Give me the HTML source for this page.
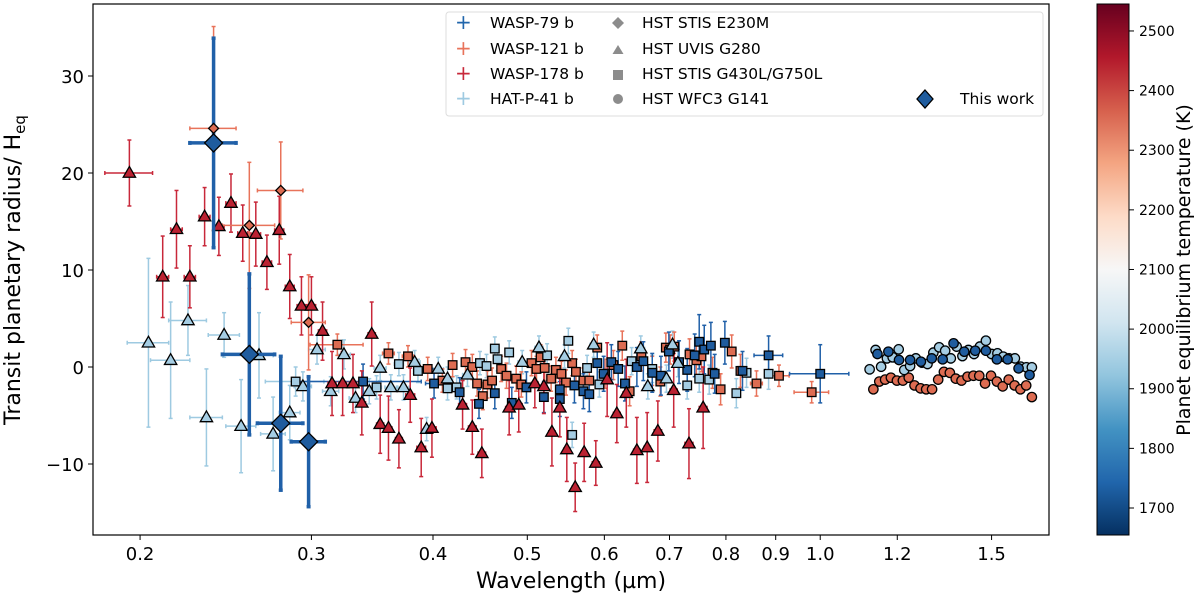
<!DOCTYPE html>
<html><head><meta charset="utf-8"><style>
body{margin:0;background:#fff;}
svg text{font-family:"DejaVu Sans","Liberation Sans",sans-serif;}
</style></head><body>
<svg id="chart" width="1200" height="601" xmlns="http://www.w3.org/2000/svg">
<defs>
<linearGradient id="rdbu" x1="0" y1="1" x2="0" y2="0">
<stop offset="0" stop-color="#053061"/><stop offset="0.1" stop-color="#2166ac"/><stop offset="0.2" stop-color="#4393c3"/><stop offset="0.3" stop-color="#92c5de"/><stop offset="0.4" stop-color="#d1e5f0"/><stop offset="0.5" stop-color="#f7f7f7"/><stop offset="0.6" stop-color="#fddbc7"/><stop offset="0.7" stop-color="#f4a582"/><stop offset="0.8" stop-color="#d6604d"/><stop offset="0.9" stop-color="#b2182b"/><stop offset="1" stop-color="#67001f"/>
</linearGradient>
<clipPath id="plotclip"><rect x="93" y="4" width="956" height="531"/></clipPath>
</defs>
<g id="marks" clip-path="url(#plotclip)"></g>
<rect x="93" y="4" width="956" height="531" fill="none" stroke="#000" stroke-width="1.2"/>
<g id="axes"></g>
<text x="20" y="270" font-size="22" text-anchor="middle" transform="rotate(-90 20 270)">Transit planetary radius/ H<tspan font-size="15" dy="5">eq</tspan></text>
<text x="571" y="588" font-size="22" text-anchor="middle">Wavelength (µm)</text>
<g>
<rect x="446" y="12" width="597" height="104" fill="#fff" stroke="#ddd" rx="3"/>
<g font-size="15.5">
<text x="455" y="29" fill="#2166ac" font-size="20">+</text><text x="490" y="28">WASP-79 b</text>
<text x="455" y="55" fill="#e8735a" font-size="20">+</text><text x="490" y="54">WASP-121 b</text>
<text x="455" y="80" fill="#c8283a" font-size="20">+</text><text x="490" y="79">WASP-178 b</text>
<text x="455" y="105" fill="#9ecae1" font-size="20">+</text><text x="490" y="104">HAT-P-41 b</text>
<path d="M618 17 l6 6 l-6 6 l-6 -6z" fill="#8c8c8c"/><text x="642" y="28">HST STIS E230M</text>
<path d="M618 45 l5.5 9 h-11z" fill="#8c8c8c"/><text x="642" y="54">HST UVIS G280</text>
<rect x="613" y="70" width="10" height="10" fill="#8c8c8c"/><text x="642" y="79">HST STIS G430L/G750L</text>
<circle cx="618" cy="99" r="5" fill="#8c8c8c"/><text x="642" y="104">HST WFC3 G141</text>
<path d="M925 90 l8 9 l-8 9 l-8 -9z" fill="#1f5c9e" stroke="#000" stroke-width="1.3"/><text x="960" y="104">This work</text>
</g></g>
<g>
<rect x="1097" y="4" width="32" height="531" fill="url(#rdbu)" stroke="#000" stroke-width="1"/>
<g id="cbticks" font-size="14"></g>
<text x="1190" y="270" font-size="19" text-anchor="middle" transform="rotate(-90 1190 270)">Planet equilibrium temperature (K)</text>
</g>
</svg>
<script>
// ---- data ----
const xTicks = [0.2,0.3,0.4,0.5,0.6,0.7,0.8,0.9,1.0,1.2,1.5];
const xTickLabels = ["0.2","0.3","0.4","0.5","0.6","0.7","0.8","0.9","1.0","1.2","1.5"];
const yTicks = [30,20,10,0,-10];
const yTickLabels = ["30","20","10","0","\u221210"];
const cbTicks = [1700,1800,1900,2000,2100,2200,2300,2400,2500];

// WASP-178 b UVIS G280
const w178_tri_w = [0.195,0.211,0.218,0.225,0.233,0.241,0.248,0.255,0.263,0.270,0.278,0.285,0.293,0.300,0.308,0.315,0.323,0.331,0.338,0.346,0.353,0.360,0.369,0.379,0.389,0.399,0.429,0.439,0.449,0.479,0.490,0.509,0.520,0.530,0.540,0.549,0.560,0.572,0.588,0.604,0.618,0.632,0.648,0.664,0.681,0.707,0.733,0.758];
const w178_tri_v = [20.0,9.3,14.2,9.3,15.5,14.5,16.9,13.8,13.7,10.8,14.1,8.3,6.3,6.3,3.7,-1.7,-1.7,-1.7,-3.7,3.4,-5.9,-6.3,-7.4,-2.9,-8.3,-6.3,-3.9,-6.2,-8.9,-4.2,-3.9,-1.7,-2.0,-6.7,-4.2,-8.5,-12.4,-8.8,-9.9,-1.3,-4.8,-2.7,-8.6,-8.3,-6.6,-2.4,-7.9,-4.2];
const w178_tri_e = [3.4,4.2,4.0,3.2,3.0,3.0,3.0,2.9,3.3,2.8,3.5,3.3,3.0,3.0,3.0,3.3,3.3,3.0,3.3,3.3,3.0,3.3,3.0,2.8,3.0,3.0,2.5,2.8,2.5,2.8,2.8,2.5,2.8,3.5,3.0,3.3,2.5,3.0,2.3,3.8,3.0,3.5,3.4,3.6,3.1,3.8,3.6,4.2];
const w178_tri_xe = [0.011,0.003,0.003,0.003,0.003,0.003,0.003,0.003,0.003,0.003,0.003,0.003,0.003,0.003,0.003,0.003,0.003,0.003,0.003,0.003,0.003,0.003,0.003,0.004,0.004,0.004,0.004,0.004,0.004,0.004,0.004,0.004,0.004,0.004,0.004,0.004,0.004,0.004,0.005,0.005,0.005,0.005,0.005,0.005,0.006,0.006,0.007,0.007];

// HAT-P-41 b UVIS G280
const h41_tri_w = [0.204,0.215,0.224,0.234,0.244,0.254,0.265,0.274,0.285,0.294,0.304,0.314,0.324,0.333,0.344,0.353,0.362,0.373,0.383,0.394,0.405,0.414,0.434,0.494,0.514,0.546,0.585,0.654,0.665,0.695,0.705,0.714];
const h41_tri_v = [2.5,0.7,4.8,-5.2,3.3,-6.1,1.2,-6.9,-4.7,-2.0,1.8,-2.5,1.3,-3.2,-2.5,-0.1,-2.1,-2.1,0.5,-6.4,-0.2,-1.2,-0.8,0.5,2.0,1.1,2.3,1.9,-2.0,-1.2,2.3,0.4];
const h41_tri_e = [8.7,6.0,3.6,5.0,2.3,4.8,4.4,3.8,2.8,1.5,1.5,1.5,1.5,1.5,1.3,1.3,1.3,1.3,1.2,1.2,1.2,1.2,1.2,1.2,1.2,1.2,1.3,1.3,1.3,1.4,1.4,1.4];
const h41_tri_xe = [0.010,0.010,0.010,0.009,0.009,0.009,0.009,0.008,0.007,0.006,0.006,0.006,0.005,0.005,0.005,0.005,0.005,0.005,0.005,0.005,0.005,0.005,0.005,0.005,0.005,0.005,0.005,0.006,0.006,0.006,0.006,0.006];

// HAT-P-41 b STIS G430L/G750L
const h41_sq_w = [0.289,0.350,0.369,0.386,0.414,0.423,0.447,0.454,0.463,0.466,0.479,0.524,0.551,0.556,0.576,0.593,0.640,0.672,0.730,0.751,0.769,0.820,0.840,0.885];
const h41_sq_v = [-1.5,-2.1,0.3,-0.4,-2.2,-2.1,0.4,0.1,1.9,0.8,1.5,1.2,2.7,-7.0,-0.1,-1.8,0.6,-0.2,-1.9,-1.2,-1.3,-2.7,-0.6,-0.7];
const h41_sq_e = [1.5,1.2,1.2,1.2,1.2,1.2,1.2,1.2,1.2,1.2,1.2,1.2,1.3,1.3,1.3,1.3,1.4,1.4,1.4,1.4,1.5,1.5,1.5,1.6];
const h41_sq_xe = [0.020,0.004,0.004,0.004,0.004,0.004,0.003,0.003,0.003,0.003,0.003,0.003,0.003,0.003,0.003,0.003,0.004,0.004,0.004,0.004,0.004,0.004,0.004,0.006];

// WASP-121 b STIS G430L/G750L
const w121_sq_w = [0.319,0.360,0.377,0.395,0.409,0.419,0.432,0.439,0.444,0.450,0.455,0.460,0.470,0.476,0.487,0.493,0.505,0.511,0.516,0.521,0.529,0.535,0.542,0.548,0.556,0.561,0.571,0.579,0.590,0.601,0.613,0.626,0.637,0.655,0.672,0.685,0.694,0.701,0.708,0.734,0.746,0.755,0.775,0.790,0.811,0.828,0.860,0.907,0.980];
const w121_sq_v = [2.3,1.4,1.1,-0.2,-1.4,0.2,0.5,0.0,-1.7,-3.0,-1.8,-1.4,-0.2,-0.9,-1.2,-1.8,0.4,-0.2,1.0,-0.1,-1.2,-0.3,-0.7,-1.6,0.4,-0.5,-1.4,-1.4,2.0,-0.7,0.2,2.2,-2.5,1.1,-0.4,-1.5,2.0,1.8,2.1,1.3,0.7,1.1,-0.6,-2.3,1.6,-0.4,-1.7,-0.9,-2.6];
const w121_sq_e = [1.1,1.1,1.1,1.2,1.2,1.2,1.3,1.3,1.3,1.4,1.4,1.3,1.3,1.3,1.3,1.3,1.3,1.3,1.3,1.3,1.3,1.3,1.3,1.3,1.3,1.3,1.3,1.3,1.3,1.5,1.5,1.5,1.5,1.5,1.5,1.5,1.5,1.5,1.5,1.6,1.6,1.6,1.6,1.6,1.7,1.7,1.3,1.1,1.1];
const w121_sq_xe = [0.020,0.005,0.005,0.004,0.003,0.003,0.003,0.003,0.003,0.003,0.003,0.003,0.003,0.003,0.003,0.003,0.003,0.003,0.003,0.003,0.003,0.003,0.003,0.003,0.003,0.003,0.003,0.003,0.003,0.004,0.004,0.004,0.004,0.004,0.004,0.004,0.004,0.004,0.004,0.004,0.004,0.004,0.004,0.004,0.004,0.004,0.012,0.022,0.040];

// WASP-79 b STIS G430L/G750L
const w79_sq_w = [0.339,0.401,0.426,0.446,0.463,0.482,0.499,0.520,0.540,0.540,0.559,0.571,0.579,0.590,0.599,0.610,0.620,0.630,0.648,0.658,0.672,0.686,0.699,0.716,0.730,0.743,0.751,0.760,0.772,0.779,0.798,0.832,0.885,1.000];
const w79_sq_v = [-1.5,-1.7,-2.6,-3.8,-2.7,-3.7,-2.1,-3.1,-3.3,-2.3,-1.9,-2.5,-2.8,0.4,-0.7,0.5,-0.2,-1.7,0.0,0.6,-0.6,-0.9,1.6,0.5,-0.3,1.2,2.6,1.8,2.2,-0.7,2.5,-0.4,1.2,-0.7];
const w79_sq_e = [1.8,1.5,1.5,1.5,1.6,1.6,1.6,1.6,1.8,1.8,1.8,1.8,1.8,1.8,1.8,1.8,1.8,1.8,2.0,2.0,2.0,2.0,2.0,2.2,2.2,2.2,2.8,2.5,2.4,2.0,2.2,2.0,2.0,3.0];
const w79_sq_xe = [0.050,0.008,0.004,0.004,0.004,0.004,0.004,0.004,0.004,0.004,0.004,0.004,0.004,0.004,0.004,0.004,0.004,0.004,0.004,0.004,0.004,0.004,0.004,0.004,0.004,0.004,0.004,0.004,0.004,0.004,0.004,0.004,0.030,0.070];

// WFC3 G141
const w121_ci_w = [1.134,1.150,1.166,1.182,1.199,1.216,1.233,1.250,1.268,1.285,1.303,1.322,1.340,1.359,1.378,1.397,1.417,1.437,1.457,1.477,1.498,1.519,1.540,1.562,1.584,1.606,1.628,1.650];
const w121_ci_v = [-2.3,-1.5,-1.3,-1.1,-1.4,-1.4,-1.1,-1.9,-2.2,-2.3,-2.3,-1.3,-0.5,-0.6,-1.2,-1.4,-1.0,-0.9,-0.9,-1.7,-0.9,-1.5,-2.0,-1.3,-1.9,-2.3,-1.9,-3.1];
const h41_ci_w = [1.124,1.140,1.155,1.171,1.187,1.204,1.220,1.237,1.254,1.272,1.289,1.307,1.325,1.344,1.362,1.381,1.400,1.420,1.439,1.459,1.480,1.500,1.521,1.542,1.563,1.585,1.607,1.629,1.650];
const h41_ci_v = [-0.24,1.75,0.03,0.89,1.0,1.82,-0.31,0.1,0.89,0.45,0.31,1.48,2.03,1.68,0.89,2.1,1.13,1.75,1.34,2.1,2.71,1.34,1.41,1.06,0.89,0.89,0.03,-0.03,-0.03];
const w79_ci_w = [1.145,1.175,1.205,1.237,1.269,1.302,1.336,1.371,1.406,1.443,1.480,1.519,1.558,1.599,1.641];
const w79_ci_v = [1.34,1.58,0.72,0.72,0.55,0.89,0.79,2.44,1.58,1.68,1.68,0.79,0.79,-0.14,-0.82];

// WASP-121 b STIS E230M
const w121_di_w = [0.238,0.259,0.279,0.298];
const w121_di_v = [24.6,14.6,18.2,4.6];
const w121_di_e = [10.5,6.5,5.0,4.9];
const w121_di_xe = [0.013,0.016,0.015,0.012];

// This work (WASP-79 b)
const tw_w = [0.238,0.259,0.279,0.298];
const tw_v = [23.1,1.3,-5.8,-7.7];
const tw_e = [10.8,8.3,6.9,6.7];
const tw_xe = [0.013,0.016,0.015,0.012];

// ---- axes ----
const X0=433, XK=422.6, Y0=367, YK=9.7;
function sx(w){return X0+XK*Math.log(w/0.4);}
function sy(v){return Y0-YK*v;}
function cy(t){return 508-(t-1700)*0.5963;}
const NS='http://www.w3.org/2000/svg';
function mk(tag,attrs,parent){const e=document.createElementNS(NS,tag);for(const k in attrs)e.setAttribute(k,attrs[k]);parent.appendChild(e);return e;}

const axes=document.getElementById('axes');
xTicks.forEach((t,i)=>{
  const x=sx(t);
  const tk=mk('line',{x1:x,x2:x,y1:535,y2:540,stroke:'#000','stroke-width':1},axes);
  
  
  const lb=mk('text',{x:x,y:560,'font-size':18,'text-anchor':'middle'},axes);
  lb.textContent=xTickLabels[i];
  
  
});
yTicks.forEach((t,i)=>{
  const y=sy(t);
  const tk=mk('line',{x1:88,x2:93,y1:y,y2:y,stroke:'#000','stroke-width':1},axes);
  
  
  const lb=mk('text',{x:84,y:y+7,'font-size':18,'text-anchor':'end'},axes);
  lb.textContent=yTickLabels[i];
  
  
});
const cbg=document.getElementById('cbticks');
cbTicks.forEach(t=>{
  const y=cy(t);
  const tk=mk('line',{x1:1129,x2:1134,y1:y,y2:y,stroke:'#000','stroke-width':1},cbg);
  
  
  const lb=mk('text',{x:1139,y:y+5},cbg);
  lb.textContent=String(t);
  
  
});

// ---- marks ----
const marks=document.getElementById('marks');
function drawErr(W,V,E,XE,col,name,lw){
  const g=mk('g',{},marks);
  
  
  W.forEach((w,i)=>{
    const x=sx(w),y=sy(V[i]);
    if(E){const y1=sy(V[i]+E[i]),y2=sy(V[i]-E[i]);
      mk('line',{x1:x,x2:x,y1:y1,y2:y2,stroke:col,'stroke-width':lw},g);
      mk('line',{x1:x-2,x2:x+2,y1:y1,y2:y1,stroke:col,'stroke-width':lw},g);
      mk('line',{x1:x-2,x2:x+2,y1:y2,y2:y2,stroke:col,'stroke-width':lw},g);}
    if(XE){const x1=sx(w-XE[i]),x2=sx(w+XE[i]);
      mk('line',{x1:x1,x2:x2,y1:y,y2:y,stroke:col,'stroke-width':lw},g);
      mk('line',{x1:x1,x2:x1,y1:y-2,y2:y+2,stroke:col,'stroke-width':lw},g);
      mk('line',{x1:x2,x2:x2,y1:y-2,y2:y+2,stroke:col,'stroke-width':lw},g);}
  });
}
function drawPts(W,V,shape,fill,name,size){
  const g=mk('g',{fill:fill,stroke:'#000','stroke-width':1.3},marks);
  
  
  W.forEach((w,i)=>{
    const x=sx(w),y=sy(V[i]);let e;
    const s=size;
    if(shape==='tri') e=mk('path',{d:`M${x} ${y-s} L${x+s*0.95} ${y+s*0.65} L${x-s*0.95} ${y+s*0.65}Z`},g);
    else if(shape==='sq') e=mk('rect',{x:x-s,y:y-s,width:2*s,height:2*s},g);
    else if(shape==='ci') e=mk('circle',{cx:x,cy:y,r:s},g);
    else e=mk('path',{d:`M${x} ${y-s} L${x+s} ${y} L${x} ${y+s} L${x-s} ${y}Z`},g);
    
    
  });
}
const C79='#1f5c9e',C79e='#2060a8',C121='#dd6c52',C121e='#e8735a',C178='#bb2232',C178e='#c8283a',C41='#a5cde3',C41e='#9ecae1';

drawErr(h41_tri_w,h41_tri_v,h41_tri_e,h41_tri_xe,C41e,'hatp41-g280',1.5);
drawErr(h41_sq_w,h41_sq_v,h41_sq_e,h41_sq_xe,C41e,'hatp41-stis',1.5);
drawErr(w121_sq_w,w121_sq_v,w121_sq_e,w121_sq_xe,C121e,'wasp121-stis',1.5);
drawErr(w79_sq_w,w79_sq_v,w79_sq_e,w79_sq_xe,C79e,'wasp79-stis',1.5);
drawErr(w178_tri_w,w178_tri_v,w178_tri_e,w178_tri_xe,C178e,'wasp178-g280',1.5);
drawErr(w121_di_w,w121_di_v,w121_di_e,w121_di_xe,C121e,'wasp121-e230m',1.5);
drawErr(h41_ci_w,h41_ci_v,h41_ci_v.map(()=>0.5),null,C41e,'hatp41-wfc3',1.3);
drawErr(w79_ci_w,w79_ci_v,null,w79_ci_w.map(()=>0.008),C79e,'wasp79-wfc3',1.3);

drawPts(w121_sq_w,w121_sq_v,'sq',C121,'wasp121-stis',4.3);
drawPts(h41_sq_w,h41_sq_v,'sq',C41,'hatp41-stis',4.3);
drawPts(w79_sq_w,w79_sq_v,'sq',C79,'wasp79-stis',4.3);
drawPts(h41_tri_w,h41_tri_v,'tri',C41,'hatp41-g280',6.5);
drawPts(w178_tri_w,w178_tri_v,'tri',C178,'wasp178-g280',6.5);
drawPts(w121_ci_w,w121_ci_v,'ci',C121,'wasp121-wfc3',4.7);
drawPts(h41_ci_w,h41_ci_v,'ci',C41,'hatp41-wfc3',4.7);
drawPts(w79_ci_w,w79_ci_v,'ci',C79,'wasp79-wfc3',4.7);
drawErr(tw_w,tw_v,tw_e,tw_xe,C79e,'this-work',3.5);
drawPts(w121_di_w,w121_di_v,'di',C121,'wasp121-e230m',5);
drawPts(tw_w,tw_v,'di',C79,'this-work',9);
</script>
</body></html>
